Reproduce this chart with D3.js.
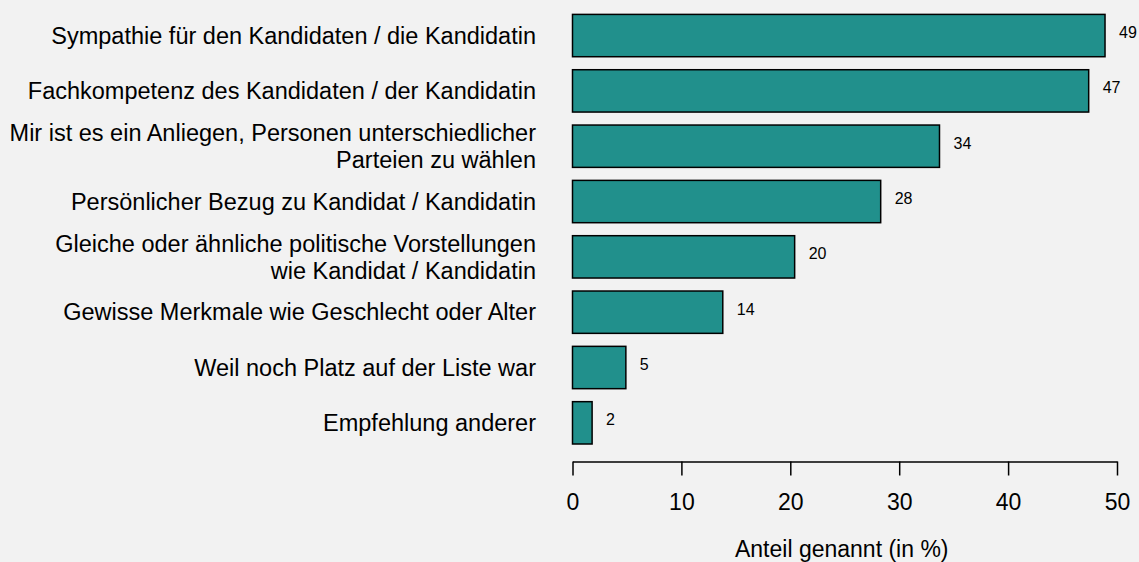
<!DOCTYPE html>
<html>
<head>
<meta charset="utf-8">
<style>
    body { margin: 0; background: #f2f2f2; }
    svg { display: block; font-family: 'Liberation Sans', Arial, sans-serif; }
    .x .domain, .x .tick line { stroke: #000; stroke-width: 1.5px; }
    .x .tick text { font-size: 23px; fill: #000; }
</style>
</head>
<body>
<svg width="1139" height="562"></svg>
<script src="https://d3js.org/d3.v7.min.js"></script>
<script>
    let categories = [
        ["Sympathie für den Kandidaten / die Kandidatin"],
        ["Fachkompetenz des Kandidaten / der Kandidatin"],
        ["Mir ist es ein Anliegen, Personen unterschiedlicher", "Parteien zu wählen"],
        ["Persönlicher Bezug zu Kandidat / Kandidatin"],
        ["Gleiche oder ähnliche politische Vorstellungen", "wie Kandidat / Kandidatin"],
        ["Gewisse Merkmale wie Geschlecht oder Alter"],
        ["Weil noch Platz auf der Liste war"],
        ["Empfehlung anderer"]
    ]
    let values = [48.9, 47.4, 33.7, 28.3, 20.4, 13.8, 4.9, 1.8]
    let xTicks = [0, 10, 20, 30, 40, 50]
    let xTitle = "Anteil genannt (in %)"

    let svg = d3.select("svg")

    let data = values.map((v, i) => ({ label: categories[i], value: v, idx: i }))

    let x = d3.scaleLinear()
        .domain([0, 50])
        .range([572.5, 1117])

    let y = d3.scaleBand()
        .domain(d3.range(values.length))
        .range([7.9, 450.5])
        .paddingInner(0.235)
        .paddingOuter(0.1175)

    // bars
    svg.append("g")
        .selectAll("rect")
        .data(data)
        .join("rect")
        .attr("x", x(0))
        .attr("y", d => y(d.idx))
        .attr("width", d => x(d.value) - x(0))
        .attr("height", y.bandwidth())
        .style("fill", "#21908c")
        .style("stroke", "#000")
        .style("stroke-width", "1.5px")

    // value labels
    svg.append("g")
        .selectAll("text")
        .data(data)
        .join("text")
        .attr("x", d => x(d.value) + 14)
        .attr("y", d => y(d.idx) + y.bandwidth() / 2 - 3)
        .attr("dy", "0.35em")
        .style("font-size", "16px")
        .text(d => Math.round(d.value))

    // category labels
    let labels = svg.append("g")
        .selectAll("text")
        .data(data)
        .join("text")
        .attr("text-anchor", "end")
        .style("font-size", "23.5px")
        .attr("transform", d => `translate(536,${y(d.idx) + y.bandwidth() / 2})`)

    labels.selectAll("tspan")
        .data(d => d.label.map((t, j) => ({ t: t, j: j, n: d.label.length })))
        .join("tspan")
        .attr("x", 0)
        .attr("y", d => (d.j - (d.n - 1) / 2) * 27)
        .attr("dy", "0.35em")
        .text(d => d.t)

    // x axis
    svg.append("g")
        .attr("class", "x axis")
        .attr("transform", "translate(0,461.5)")
        .call(d3.axisBottom(x).tickValues(xTicks).tickSize(14).tickSizeOuter(0).tickPadding(18))

    svg.append("text")
        .attr("x", (x(0) + x(50)) / 2 - 3)
        .attr("y", 549)
        .attr("dy", "0.35em")
        .attr("text-anchor", "middle")
        .style("font-size", "23px")
        .text(xTitle)
</script>
</body>
</html>
